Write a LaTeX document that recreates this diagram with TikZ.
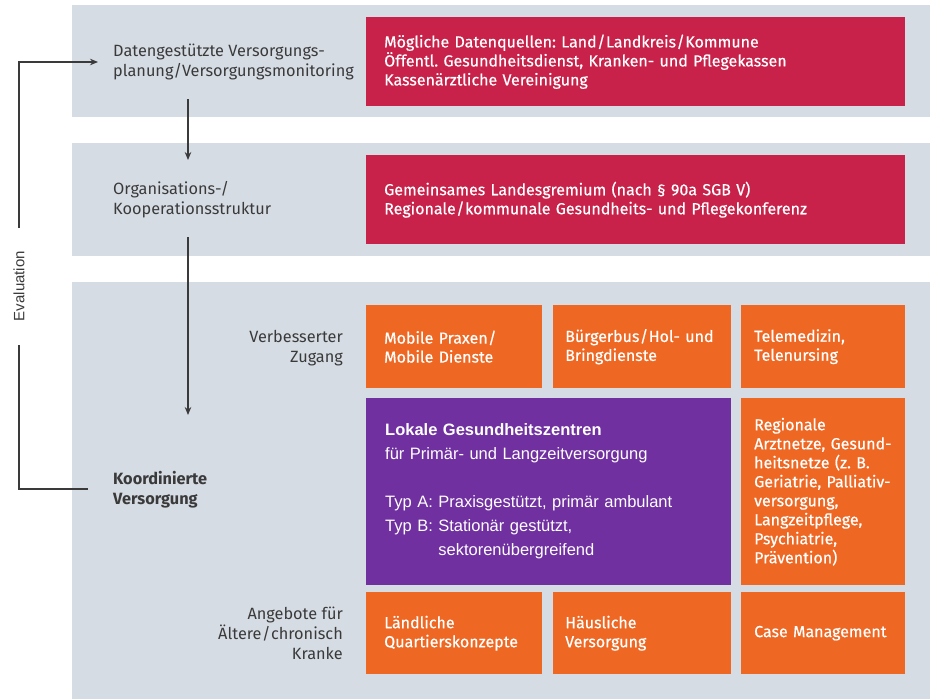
\documentclass[tikz,border=0pt]{standalone}
\usepackage{fontspec}
\setmainfont{Fira Sans}
\newfontfamily\boxf{Fira Sans}[FakeBold=0.4]
\newfontfamily\arialf{Liberation Sans}
\usetikzlibrary{arrows.meta}
\definecolor{bandgray}{HTML}{D6DCE4}
\definecolor{crim}{HTML}{C8224A}
\definecolor{orng}{HTML}{EF6823}
\definecolor{purp}{HTML}{7030A0}
\definecolor{txtgray}{HTML}{3A3A3A}
\newcommand{\myslash}{\kern0.5pt/\kern0.5pt}
\frenchspacing
\begin{document}
\begin{tikzpicture}[x=1pt,y=-1pt,
  band/.style={fill=bandgray, draw=none, inner sep=0pt, anchor=north west},
  colbox/.style={draw=none, anchor=north west, align=left, text=white, inner ysep=0pt,
     font=\boxf\fontsize{16}{19}\selectfont},
  crimbox/.style={colbox, fill=crim, inner xsep=18pt, text width=503pt, minimum height=89pt},
  orbox/.style={colbox, fill=orng, minimum height=#1},
  purpbox/.style={colbox, fill=purp, inner xsep=19pt, text width=327pt, minimum height=187pt,
     font=\arialf\fontsize{16.5}{24}\selectfont},
  lbl/.style={text=txtgray, inner sep=0pt, font=\fontsize{16.3}{20}\selectfont},
  conn/.style={draw=txtgray, line width=1.3pt},
  arr/.style={conn, -{Stealth[length=8pt,width=6.5pt]}}
]
\useasboundingbox (0,0) rectangle (930,699);
% bands
\node[band, minimum width=858pt, minimum height=112pt] (band1) at (72,5) {};
\node[band, minimum width=858pt, minimum height=113pt] (band2) at (72,143) {};
\node[band, minimum width=858pt, minimum height=417pt] (band3) at (72,282) {};
% crimson boxes
\node[crimbox] (dq) at (366,17) {Mögliche Datenquellen: Land\myslash Landkreis\myslash Kommune\\Öffentl. Gesundheitsdienst, Kranken- und Pflegekassen\\Kassenärztliche Vereinigung};
\node[crimbox] (lg) at (366,155) {Gemeinsames Landesgremium (nach § 90a SGB V)\\Regionale\myslash kommunale Gesundheits- und Pflegekonferenz};
% orange row 1
\node[orbox=83pt, inner xsep=18pt, text width=140pt] (mp) at (366,305) {Mobile Praxen\myslash\\Mobile Dienste};
\node[orbox=83pt, inner xsep=12pt, text width=154pt] (bb) at (553,305) {Bürgerbus\myslash Hol- und\\Bringdienste};
\node[orbox=83pt, inner xsep=13pt, text width=138pt] (tm) at (741,305) {Telemedizin,\\Telenursing};
% purple
\node[purpbox] (lgz) at (366,398) {\textbf{Lokale Gesundheitszentren}\\für Primär- und Langzeitversorgung\\\mbox{}\\Typ A: Praxisgestützt, primär ambulant\\Typ B: Stationär gestützt,\\\phantom{Typ B: }sektorenübergreifend};
\node[orbox=187pt, inner xsep=13pt, text width=138pt] (ra) at (741,398) {Regionale\\Arztnetze, Gesund-\\heitsnetze (z. B.\\Geriatrie, Palliativ-\\versorgung,\\Langzeitpflege,\\Psychiatrie,\\Prävention)};
% orange row 3
\node[orbox=82pt, inner xsep=18pt, text width=140pt] (lq) at (366,592) {Ländliche\\Quartierskonzepte};
\node[orbox=82pt, inner xsep=12pt, text width=154pt] (hv) at (553,592) {Häusliche\\Versorgung};
\node[orbox=82pt, inner xsep=13pt, text width=138pt] (cm) at (741,592) {Case Management};
% left labels
\node[lbl, anchor=west, align=left] (dv) at (113,62) {Datengestützte Versorgungs-\\planung/Versorgungsmonitoring};
\node[lbl, anchor=west, align=left] (ok) at (113,200) {Organisations-/\\Kooperationsstruktur};
\node[lbl, anchor=west, align=left, font=\bfseries\fontsize{16.3}{20}\selectfont] (kv) at (113,490) {Koordinierte\\Versorgung};
\node[lbl, anchor=east, align=right] (vz) at (343,348) {Verbesserter\\Zugang};
\node[lbl, anchor=east, align=right] (ae) at (343,633) {Angebote für\\Ältere\myslash chronisch\\Kranke};
% evaluation
\node[rotate=90, text=txtgray, inner sep=0pt, font=\arialf\fontsize{15}{16}\selectfont] (ev) at (19,286) {Evaluation};
\coordinate (evin) at (88,489);
\coordinate (evlow) at (19,345);
\coordinate (evhigh) at (19,228);
\coordinate (evout) at (98,62);
\draw[conn] (evin) -| (evlow);
\draw[arr] (evhigh) |- (evout);
% down arrows
\coordinate (a1s) at (188,99);
\coordinate (a1e) at (188,160);
\coordinate (a2s) at (188,237);
\coordinate (a2e) at (188,415);
\draw[arr] (a1s) -- (a1e);
\draw[arr] (a2s) -- (a2e);
\end{tikzpicture}
\end{document}
